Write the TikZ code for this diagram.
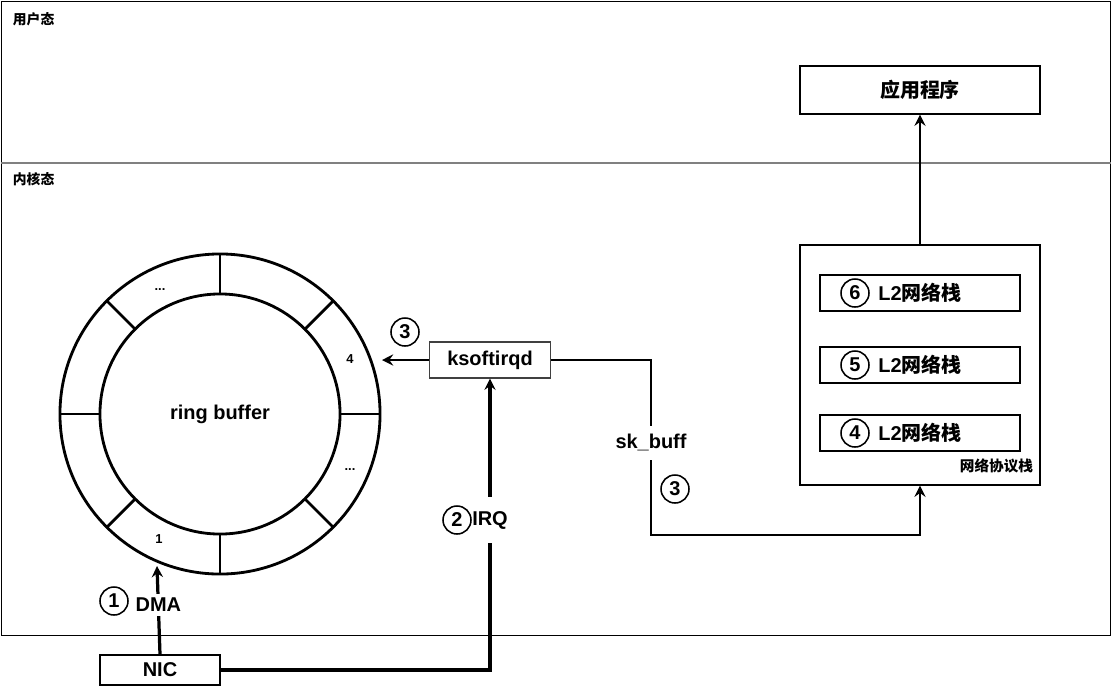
\documentclass[tikz,border=0pt]{standalone}
\usepackage{fontspec}
\setmainfont{Liberation Sans}
\newfontfamily\cjk{Noto Sans CJK SC}
\usetikzlibrary{positioning, arrows.meta}

\begin{document}
\begin{tikzpicture}[x=0.025cm, y=-0.025cm,
    zone/.style={rectangle, draw=black, line width=0.7pt, inner sep=0pt, anchor=north west},
    box/.style={rectangle, draw=black, line width=0.9pt, inner sep=0pt, font=\bfseries\fontsize{14.2}{16}\selectfont},
    layer/.style={box, line width=1.2pt, minimum width=5cm, minimum height=0.9cm},
    ringc/.style={circle, draw=black, line width=2pt, inner sep=0pt, outer sep=0pt},
    num/.style={circle, draw=black, line width=1.1pt, minimum size=0.7cm, inner sep=0pt, font=\bfseries\fontsize{14.2}{16}\selectfont},
    lbl/.style={fill=white, inner sep=3pt, font=\bfseries\fontsize{14.2}{16}\selectfont},
    small/.style={font=\bfseries\fontsize{9.8}{11}\selectfont},
    slot/.style={font=\bfseries\fontsize{9.2}{10}\selectfont},
    arr/.style={-{Stealth[length=8pt, width=8pt, inset=2.8pt]}, line width=1.4pt},
    bold arr/.style={arr, line width=2.3pt},
]
\useasboundingbox (0,0) rectangle (1112,686);

% === User space / kernel space ===
\node[zone, minimum width=27.725cm, minimum height=4.025cm] (user) at (1,1) {};
\node[zone, minimum width=27.725cm, minimum height=11.825cm] (kernel) at (1,162) {};
\draw[black!50, line width=1.3pt] (user.south west) -- (user.south east);
\node[small, anchor=west] (userlbl) at (8,19) {\cjk 用户态};
\node[small, anchor=west] (kernellbl) at (8,179) {\cjk 内核态};

% === Application ===
\node[box, minimum width=6cm, minimum height=1.2cm] (app) at (920,90) {\cjk 应用程序};

% === Network stack ===
\node[box, minimum width=6cm, minimum height=6cm] (stack) at (920,365) {};
\node[small, font=\bfseries\fontsize{10.4}{12}\selectfont, anchor=south east] (stacklbl) at (1038,478) {\cjk 网络协议栈};
\foreach \n/\y in {6/293, 5/365, 4/433} {
    \node[layer] (l\n) at (920,\y) {L2\cjk 网络栈};
    \node[num] (n\n) at (855,\y) {\n};
}

% === Ring buffer ===
\node[ringc, minimum size=8cm] (ring) at (220,414) {};
\node[ringc, minimum size=6cm, font=\bfseries\fontsize{14.2}{16}\selectfont] (ringin) at (220,414) {ring buffer};
\foreach \a in {0,45,...,315}
    \draw[line width=2pt] (ringin.\a) -- (ring.\a);
\node[slot] (s4) at (350,359) {4};
\node[slot] (s5) at (350,470) {...};
\node[slot] (s1) at (159,539) {1};
\node[slot] (s9) at (160,290) {...};

% === ksoftirqd and NIC ===
\node[box, draw=black!75, minimum width=3.025cm, minimum height=0.9cm] (ksoft) at (490,360) {ksoftirqd};
\node[box, minimum width=3cm, minimum height=0.75cm] (nic) at (160,670) {NIC};

\coordinate (slot4in) at (382,360);
\coordinate (slot1in) at (157,566);
\coordinate (bend) at (651,535);

% === Arrows ===
\draw[bold arr] (nic.north) -- node[lbl, pos=0.56] {DMA} (slot1in);
\node[num] (c1) at (114,601) {1};

\draw[bold arr] (nic.east) -| node[lbl, pos=0.757, inner ysep=10pt] {IRQ} (ksoft.south);
\node[num] (c2) at (457,520) {2};

\draw[arr] (ksoft.west) -- (slot4in);
\node[num] (c3a) at (405,332) {3};

\draw[arr] (ksoft.east) -| node[lbl, pos=0.737, inner ysep=6pt] {sk\_buff} (bend) -| (stack.south);
\node[num] (c3b) at (675,489) {3};

\draw[arr] (stack.north) -- (app.south);

\end{tikzpicture}
\end{document}
